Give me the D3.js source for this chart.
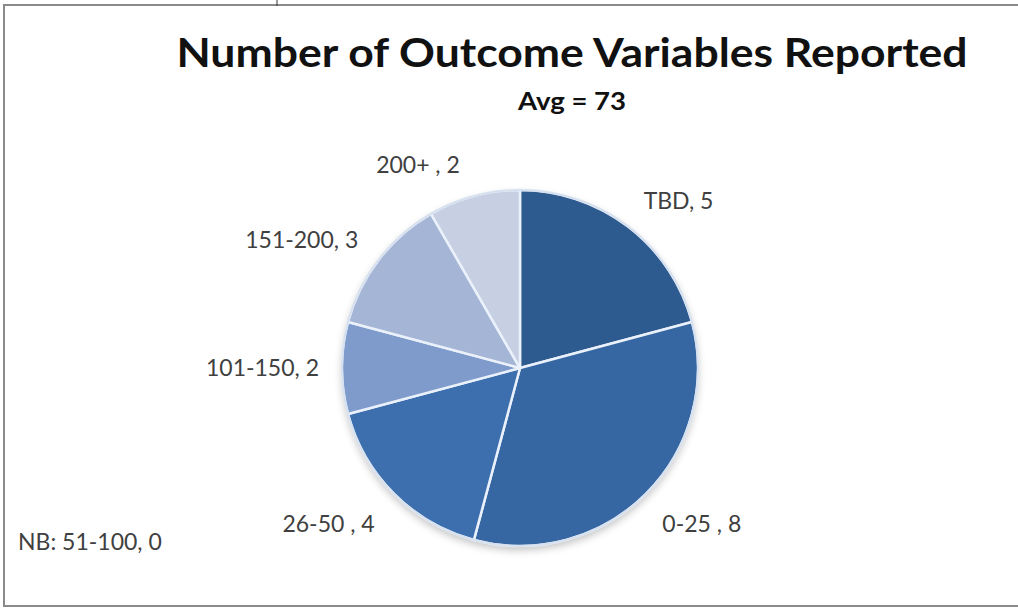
<!DOCTYPE html>
<html>
<head>
<meta charset="utf-8">
<script src="https://cdn.jsdelivr.net/npm/d3@7"></script>
<style>
  html, body { margin: 0; padding: 0; background: #fff; }
  svg { display: block; }
</style>
</head>
<body>
<svg id="chart" width="1018" height="609"></svg>
<script>
// ---- data ----
const categories = ["TBD", "0-25 ", "26-50 ", "51-100", "101-150", "151-200", "200+ "];
const values     = [5, 8, 4, 0, 2, 3, 2];
const colors     = ["#2e5b8f", "#3667a3", "#3d6fae", "#5a82bd", "#7e9bcb", "#a5b5d6", "#c7d0e3"];
const titleText  = "Number of Outcome Variables Reported";
const subtitleText = "Avg = 73";
const notePrefix = "NB: ";

const data = categories.map((c, i) => ({ name: c, value: values[i], color: colors[i] }));

const svg = d3.select("#chart");
const W = 1018, H = 609;
const cx = 520, cy = 368, R = 178;
const FONT = "Lato, 'Open Sans', 'Noto Sans', sans-serif";

// frame
svg.append("rect").attr("x", 4).attr("y", 5).attr("width", W + 10).attr("height", 601)
  .attr("fill", "#fff").attr("stroke", "#8a8a8a").attr("stroke-width", 2);
svg.append("line").attr("x1", 277).attr("x2", 277).attr("y1", 0).attr("y2", 6)
  .attr("stroke", "#333").attr("stroke-width", 1);

// shadow filter
const defs = svg.append("defs");
const f = defs.append("filter").attr("id", "shadow").attr("x", "-20%").attr("y", "-20%").attr("width", "140%").attr("height", "150%");
f.append("feGaussianBlur").attr("in", "SourceAlpha").attr("stdDeviation", 4);
f.append("feOffset").attr("dx", 0).attr("dy", 4).attr("result", "ob");
f.append("feComponentTransfer").append("feFuncA").attr("type", "linear").attr("slope", 0.25);
const fm = f.append("feMerge");
fm.append("feMergeNode");
fm.append("feMergeNode").attr("in", "SourceGraphic");

// title
svg.append("text").attr("x", 572).attr("y", 67).attr("text-anchor", "middle")
  .attr("font-family", FONT).attr("font-weight", 700).attr("font-size", 41)
  .attr("textLength", 791).attr("lengthAdjust", "spacingAndGlyphs")
  .attr("fill", "#111").text(titleText);
svg.append("text").attr("x", 572).attr("y", 110).attr("text-anchor", "middle")
  .attr("font-family", FONT).attr("font-weight", 700).attr("font-size", 25)
  .attr("textLength", 108).attr("lengthAdjust", "spacingAndGlyphs")
  .attr("fill", "#111").text(subtitleText);

// pie
const pie = d3.pie().value(d => d.value).sort(null);
const arcs = pie(data);
const arc = d3.arc().innerRadius(0).outerRadius(R);
const g = svg.append("g").attr("transform", `translate(${cx},${cy})`);

g.append("circle").attr("r", R).attr("fill", "#3667a3").attr("filter", "url(#shadow)");
g.selectAll("path.slice").data(arcs.filter(d => d.data.value > 0)).join("path")
  .attr("class", "slice")
  .attr("d", arc)
  .attr("fill", d => d.data.color)
  .attr("stroke", "#eaf1fb")
  .attr("stroke-width", 2.5)
  .attr("stroke-linejoin", "round");
g.append("circle").attr("r", R).attr("fill", "none").attr("stroke", "#d6e0ee").attr("stroke-width", 2);

// labels
const labelArc = d3.arc().innerRadius(190).outerRadius(190);
g.selectAll("text.lbl").data(arcs.filter(d => d.data.value > 0)).join("text")
  .attr("class", "lbl")
  .each(function(d) {
    const [px, py] = labelArc.centroid(d);
    const a = (d.startAngle + d.endAngle) / 2;
    const s = Math.sin(a), c = Math.cos(a);
    const side = s >= 0 ? 1 : -1;
    const yc = py - c * (c > 0 ? 20 : 30);
    d3.select(this)
      .attr("x", px + side * (side > 0 ? 8 : 11))
      .attr("y", yc + 8)
      .attr("text-anchor", side > 0 ? "start" : "end");
  })
  .attr("font-family", FONT).attr("font-size", 23).attr("fill", "#404040")
  .text(d => `${d.data.name}, ${d.data.value}`);

// note for zero-valued categories
const zeros = data.filter(d => d.value === 0);
svg.selectAll("text.note").data(zeros).join("text")
  .attr("class", "note")
  .attr("x", 18).attr("y", (d, i) => 550 + i * 26)
  .attr("font-family", FONT).attr("font-size", 23).attr("fill", "#404040")
  .text(d => `${notePrefix}${d.name}, ${d.value}`);
</script>
</body>
</html>
